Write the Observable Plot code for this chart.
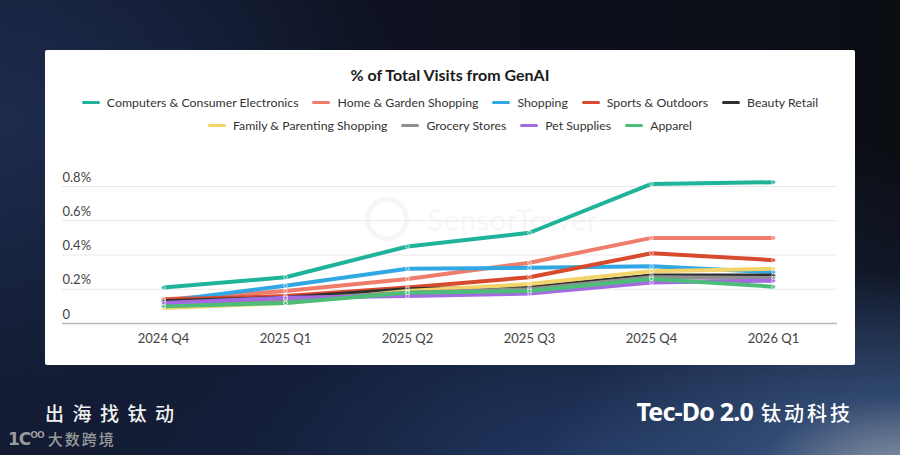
<!DOCTYPE html>
<html>
<head>
<meta charset="utf-8">
<script src="https://cdn.jsdelivr.net/npm/d3@7"></script>
<script src="https://cdn.jsdelivr.net/npm/@observablehq/plot@0.6"></script>
<style>
  html, body { margin: 0; padding: 0; }
  body {
    width: 900px; height: 455px; overflow: hidden; position: relative;
    background:
      radial-gradient(ellipse 480px 280px at 900px 480px, rgba(170,180,195,0.85) 0%, rgba(60,90,135,0.7) 30%, rgba(30,50,90,0) 75%),
      radial-gradient(ellipse 700px 420px at 580px 480px, rgba(36,62,108,0.9) 0%, rgba(25,40,75,0.6) 45%, rgba(15,20,35,0) 90%),
      radial-gradient(ellipse 420px 300px at 0px 120px, rgba(30,45,80,0.9) 0%, rgba(20,30,55,0) 100%),
      linear-gradient(90deg, #121a30 0%, #0d1120 40%, #0c0e14 100%);
    font-family: Lato, "Noto Sans", sans-serif;
  }
  #card {
    position: absolute; left: 45px; top: 50px; width: 810px; height: 315px;
    background: #fff; border-radius: 2px;
  }
  #title {
    position: absolute; left: 0; top: 15px; width: 100%; text-align: center;
    font: 700 16px Lato, sans-serif; color: #1a1a1a;
  }
  .lrow {
    position: absolute; left: 0; width: 100%; display: flex; justify-content: center;
    font: 400 12.3px Lato, sans-serif; color: #333; white-space: nowrap;
  }
  .item { display: flex; align-items: center; margin: 0 7px; }
  .sw { width: 18px; height: 3px; border-radius: 2px; margin-right: 7px; }
  #wm {
    position: absolute; left: 320px; top: 147px; font: 700 30px Lato, sans-serif;
    color: rgba(0,0,0,0.035); display: flex; align-items: center;
  }
  #wm .circ { width: 34px; height: 34px; border: 5px solid rgba(0,0,0,0.035); border-radius: 50%; margin-right: 18px; }
  #plot { position: absolute; left: 45px; top: 150px; }
  #left1 {
    position: absolute; left: 45px; top: 399px; font: 500 19px "Noto Sans CJK SC", sans-serif;
    color: #f0f0f0; letter-spacing: 8.5px;
  }
  #left2 {
    position: absolute; left: 8px; top: 428px; font: 500 15px "Noto Sans CJK SC", sans-serif;
    color: #9a9a9a; letter-spacing: 2px; display: flex; align-items: center;
  }
  #left2 .logo { font: 700 17px "DejaVu Sans", sans-serif; letter-spacing: -1px; margin-right: 4px; }
  #left2 .logo sup { font-size: 9px; }
  #right1 {
    position: absolute; right: 47px; top: 394px; color: #fff; white-space: nowrap;
  }
  #right1 .en { font: 700 25px "Noto Sans", sans-serif; letter-spacing: -0.8px; }
  #right1 .cn { font: 500 20px "Noto Sans CJK SC", sans-serif; letter-spacing: 3px; margin-left: 8px; }
</style>
</head>
<body>
<div id="card">
  <div id="title">% of Total Visits from GenAI</div>
  <div class="lrow" id="row1" style="top:45px"></div>
  <div class="lrow" id="row2" style="top:68px"></div>
  <div id="wm"><div class="circ"></div>SensorTower</div>
</div>
<div id="plot"></div>
<div id="left1">出海找钛动</div>
<div id="left2"><span class="logo">1C<sup>OO</sup></span>大数跨境</div>
<div id="right1"><span class="en">Tec-Do 2.0</span><span class="cn">钛动科技</span></div>
<script>
const quarters = ["2024 Q4", "2025 Q1", "2025 Q2", "2025 Q3", "2025 Q4", "2026 Q1"];
const seriesNames = ["Computers & Consumer Electronics", "Home & Garden Shopping", "Shopping", "Sports & Outdoors", "Beauty Retail", "Family & Parenting Shopping", "Grocery Stores", "Pet Supplies", "Apparel"];
const seriesColors = ["#1fb39a", "#ee7d6b", "#31a7e4", "#d84a2e", "#2f2f2f", "#f3d46a", "#8f8f8f", "#a46ae0", "#4dbd7a"];
const computers = [0.21, 0.27, 0.45, 0.53, 0.815, 0.825];
const homeGarden = [0.14, 0.19, 0.26, 0.355, 0.50, 0.50];
const shopping = [0.13, 0.22, 0.32, 0.325, 0.335, 0.30];
const sports = [0.14, 0.16, 0.21, 0.27, 0.41, 0.37];
const beauty = [0.13, 0.15, 0.20, 0.21, 0.28, 0.28];
const family = [0.09, 0.12, 0.19, 0.23, 0.305, 0.32];
const grocery = [0.11, 0.14, 0.18, 0.20, 0.27, 0.265];
const pet = [0.12, 0.15, 0.16, 0.175, 0.24, 0.25];
const apparel = [0.10, 0.12, 0.18, 0.19, 0.26, 0.215];
const yTicks = [0, 0.2, 0.4, 0.6, 0.8];

const seriesValues = [computers, homeGarden, shopping, sports, beauty, family, grocery, pet, apparel];

// legend
const rows = [document.getElementById("row1"), document.getElementById("row2")];
seriesNames.forEach((n, i) => {
  const it = document.createElement("div");
  it.className = "item";
  it.innerHTML = `<span class="sw" style="background:${seriesColors[i]}"></span><span>${n.replace(/&/g, "&amp;")}</span>`;
  rows[i < 5 ? 0 : 1].appendChild(it);
});

// long table in legend order (later series drawn on top)
const data = [];
seriesNames.forEach((n, i) => {
  quarters.forEach((q, j) => data.push({ s: n, q, v: seriesValues[i][j] }));
});

const fmt = d => d === 0 ? "0" : d.toFixed(1) + "%";

const chart = Plot.plot({
  width: 810,
  height: 215,
  marginLeft: 17,
  marginRight: 18,
  marginTop: 36,
  marginBottom: 42,
  x: { type: "point", domain: quarters, padding: 0, insetLeft: 100, insetRight: 63, label: null },
  y: { domain: [0, 0.8], label: null },
  color: { domain: seriesNames, range: seriesColors },
  style: { fontFamily: "Lato, sans-serif", fontSize: "13px", color: "#444", background: "transparent", overflow: "visible" },
  marks: [
    Plot.ruleY(yTicks.filter(d => d > 0), { stroke: "#e9e9e9", strokeWidth: 1 }),
    Plot.ruleY([0], { stroke: "#b8b8b8", strokeWidth: 1.5 }),
    Plot.axisY({ ticks: yTicks, tickSize: 0, tickPadding: 0, textAnchor: "start", dy: -9, tickFormat: fmt, fontSize: 13, label: null }),
    Plot.axisX({ tickSize: 0, tickPadding: 10, fontSize: 13, label: null }),
    Plot.line(data, { x: "q", y: "v", z: "s", stroke: "s", strokeWidth: 4, strokeLinejoin: "round", strokeLinecap: "round" }),
    Plot.dot(data, { x: "q", y: "v", fill: "s", stroke: "white", strokeWidth: 0.7, r: 1.8 })
  ]
});
document.getElementById("plot").appendChild(chart);
</script>
</body>
</html>
